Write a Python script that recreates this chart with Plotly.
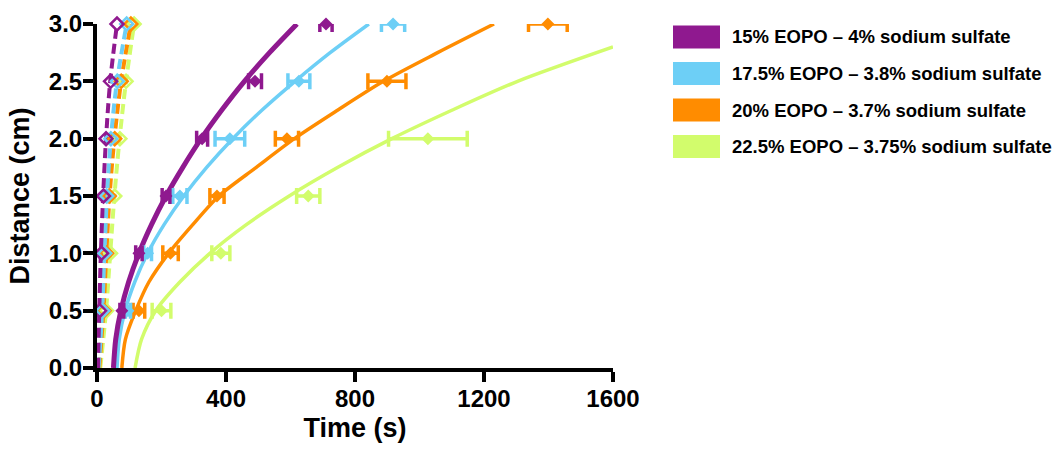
import plotly.graph_objects as go

# ---- data -----------------------------------------------------------------
distance = [0.5, 1.0, 1.5, 2.0, 2.5, 3.0]

labels = [
    "15% EOPO – 4% sodium sulfate",
    "17.5% EOPO – 3.8% sodium sulfate",
    "20% EOPO – 3.7% sodium sulfate",
    "22.5% EOPO – 3.75% sodium sulfate",
]
colors = ["#8f198f", "#6dcff6", "#ff8c00", "#d2fc6c"]

# wicking time (s) to reach each distance, mean and SD
time_15 = [77, 130, 214, 326, 490, 710]
sd_15 = [6, 10, 12, 17, 20, 19]
time_175 = [96, 157, 257, 412, 626, 918]
sd_175 = [8, 12, 22, 46, 34, 36]
time_20 = [130, 228, 372, 589, 899, 1398]
sd_20 = [18, 24, 22, 36, 59, 60]
time_225 = [200, 384, 655, 1026]
sd_225 = [29, 28, 36, 122]
distance_225 = [0.5, 1.0, 1.5, 2.0]

# early-time runs (open markers)
early_15 = [8, 14, 20, 28, 42, 62]
early_175 = [18, 24, 30, 43, 63, 92]
early_20 = [22, 30, 38, 55, 75, 105]
early_225 = [30, 42, 55, 71, 90, 115]

# fitted curves (solid)
fit_y = [0, 0.25, 0.5, 0.75, 1.0, 1.25, 1.5, 1.75, 2.0, 2.25, 2.5, 2.75, 3.0]
fit_t_15 = [51, 58, 74, 98, 130, 169, 214, 266, 323, 387, 457, 535, 620]
fit_t_175 = [62, 69, 87, 117, 157, 208, 269, 340, 421, 512, 614, 723, 843]
fit_t_20 = [77, 88, 120, 161, 222, 297, 378, 494, 612, 747, 888, 1056, 1231]
fit_y_225 = [0, 0.25, 0.5, 0.75, 1.0, 1.25, 1.5, 1.75, 2.0, 2.25, 2.5, 2.8]
fit_t_225 = [118, 138, 182, 257, 350, 463, 596, 747, 914, 1102, 1304, 1600]

# fitted curves for the early-time runs (dashed)
early_fit_y = [0, 0.5, 1.0, 1.5, 2.0, 2.5, 3.0]
early_fit_15 = [3, 7, 12, 19, 28, 41, 62]
early_fit_175 = [5, 16, 23, 31, 43, 62, 92]
early_fit_20 = [7, 20, 29, 39, 54, 75, 105]
early_fit_225 = [10, 28, 41, 54, 70, 90, 115]

measured = [
    (time_15, sd_15, distance),
    (time_175, sd_175, distance),
    (time_20, sd_20, distance),
    (time_225, sd_225, distance_225),
]
fits = [
    (fit_t_15, fit_y),
    (fit_t_175, fit_y),
    (fit_t_20, fit_y),
    (fit_t_225, fit_y_225),
]
early = [early_15, early_175, early_20, early_225]
early_fits = [early_fit_15, early_fit_175, early_fit_20, early_fit_225]
fit_widths = [5, 3.5, 3.5, 3.5]

FONT = "Arial, Liberation Sans, Helvetica, sans-serif"

fig = go.Figure()

# draw lightest series first so purple sits on top
for i in reversed(range(4)):
    c = colors[i]
    ft, fy = fits[i]
    fig.add_trace(go.Scatter(
        x=ft, y=fy, mode="lines",
        line=dict(color=c, width=fit_widths[i], shape="spline", smoothing=0.8),
        cliponaxis=False, showlegend=False, hoverinfo="skip"))
    fig.add_trace(go.Scatter(
        x=early_fits[i], y=early_fit_y, mode="lines",
        line=dict(color=c, width=4, dash="10px,5px", shape="spline", smoothing=1.0),
        cliponaxis=False, showlegend=False, hoverinfo="skip"))

for i in reversed(range(4)):
    c = colors[i]
    t, sd, d = measured[i]
    fig.add_trace(go.Scatter(
        x=t, y=d, mode="markers",
        marker=dict(symbol="diamond", size=10, color=c),
        error_x=dict(type="data", array=sd, visible=True, color=c,
                     thickness=3.5, width=8),
        cliponaxis=False, showlegend=False))
    fig.add_trace(go.Scatter(
        x=early[i], y=distance, mode="markers",
        marker=dict(symbol="diamond-open", size=10, color=c,
                    line=dict(width=2.5, color=c)),
        cliponaxis=False, showlegend=False))

# legend: colour swatches with labels
L, R = 97, 613
W = R - L
T, B = 24, 368
H = B - T
for i, (lab, c) in enumerate(zip(labels, colors)):
    yc = 37 + i * 36.5
    fig.add_shape(type="rect", xref="paper", yref="paper",
                  x0=(673 - L) / W, x1=(720 - L) / W,
                  y0=(B - (yc + 11.5)) / H, y1=(B - (yc - 11.5)) / H,
                  fillcolor=c, line=dict(width=0))
    fig.add_annotation(xref="paper", yref="paper",
                       x=(730 - L) / W, y=(B - yc) / H,
                       xanchor="left", yanchor="middle", showarrow=False,
                       text="<b>%s</b>" % lab,
                       font=dict(family=FONT, size=18.5, color="black"))

axis_common = dict(
    showgrid=False, zeroline=False, showline=True, linecolor="black",
    linewidth=4, ticks="outside", ticklen=10, tickwidth=4, tickcolor="black",
    tickfont=dict(family=FONT, size=24, color="black", weight="bold"),
)

fig.update_layout(
    width=1057, height=449,
    margin=dict(l=L, r=1057 - R, t=T, b=449 - B, autoexpand=False),
    paper_bgcolor="white", plot_bgcolor="white",
    showlegend=False,
    xaxis=dict(range=[0, 1600], tickvals=[0, 400, 800, 1200, 1600],
               ticklabelstandoff=-4,
               title=dict(text="<b>Time (s)</b>", standoff=8,
                          font=dict(family=FONT, size=27, color="black")),
               **axis_common),
    yaxis=dict(range=[0, 3], tickvals=[0, 0.5, 1, 1.5, 2, 2.5, 3],
               tickformat=".1f", ticklabelstandoff=-4,
               title=dict(text="<b>Distance (cm)</b>", standoff=12,
                          font=dict(family=FONT, size=27, color="black")),
               **axis_common),
)

fig.write_html("out.html")
